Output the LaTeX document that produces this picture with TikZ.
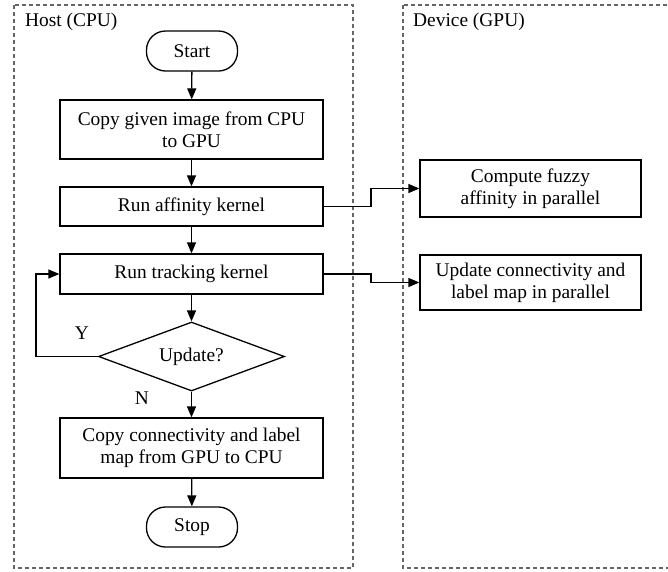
\documentclass[tikz,border=0pt]{standalone}
\usepackage{fontspec}
\setmainfont{Liberation Serif}
\usetikzlibrary{shapes.geometric,arrows.meta}
\begin{document}
\begin{tikzpicture}[x=1pt,y=-1pt,
  font=\fontsize{19.4}{22}\selectfont,
  lane/.style={draw=black!60,line width=1.1pt,dash pattern=on 4pt off 3pt},
  proc/.style={draw,line width=1.3pt,minimum width=263pt,align=center,inner sep=2pt},
  side/.style={draw,line width=1.3pt,minimum width=221pt,align=center,inner sep=2pt},
  term/.style={draw,line width=1.3pt,rounded corners=19pt,minimum width=91pt,minimum height=40pt},
  decide/.style={draw,diamond,line width=1.3pt,minimum width=186pt,minimum height=69pt,inner sep=0pt,aspect=2.7},
  flow/.style={line width=1.3pt,-{Triangle[length=11pt,width=9pt]}},
  link/.style={line width=1.3pt,rounded corners=0pt,-{Triangle[length=11pt,width=9pt]}}]
\useasboundingbox (0,0) rectangle (668,571);

% swim lanes
\draw[lane] (14,5) rectangle (353,568);
\draw[lane] (403,5) rectangle (672,568);
\node[anchor=west,inner sep=0pt] (hostlbl) at (25,22) {Host (CPU)};
\node[anchor=west,inner sep=0pt] (devlbl) at (413,22) {Device (GPU)};

% host flow
\node[term] (start) at (192,51) {Start};
\node[proc,minimum height=59pt] (copyin) at (191.5,129.5) {Copy given image from CPU\\to GPU};
\node[proc,minimum height=39pt] (affin) at (191.5,206.5) {Run affinity kernel};
\node[proc,minimum height=40pt] (track) at (191.5,274) {Run tracking kernel};
\node[decide] (upd) at (191.5,356.5) {Update?};
\node[proc,minimum height=60pt] (copyout) at (191.5,448) {Copy connectivity and label\\map from GPU to CPU};
\node[term] (stop) at (192,527) {Stop};

% device work
\node[side,minimum height=57pt] (fuzzy) at (530.5,188.5) {Compute fuzzy\\affinity in parallel};
\node[side,minimum height=55pt] (conn) at (530.5,282.5) {Update connectivity and\\label map in parallel};

% branch labels
\node (ylbl) at (82,333) {Y};
\node (nlbl) at (142,398) {N};

% connectors
\draw[flow] (start) -- (copyin);
\draw[flow] (copyin) -- (affin);
\draw[flow] (affin) -- (track);
\draw[flow] (track) -- (upd);
\draw[flow] (upd) -- (copyout);
\draw[flow] (copyout) -- (stop);
\draw[flow] (upd.west) -| (36,356) |- (track.west);
\draw[link] (affin.east) -- (371,206.5) |- (fuzzy.west);
\draw[link] (track.east) -- (371,274) |- (conn.west);
\end{tikzpicture}
\end{document}
